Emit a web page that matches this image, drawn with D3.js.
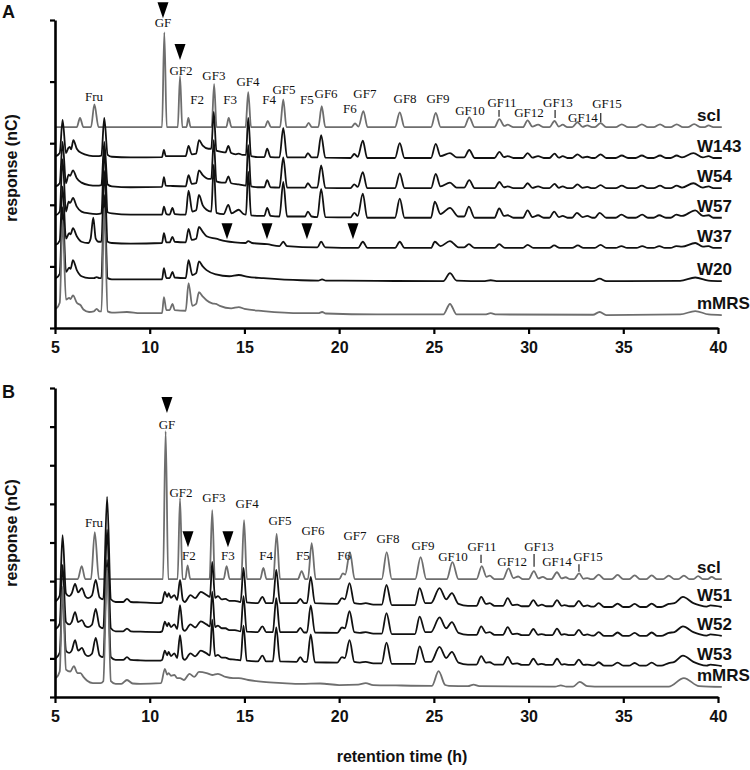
<!DOCTYPE html>
<html><head><meta charset="utf-8">
<script src="https://cdn.jsdelivr.net/npm/d3@7"></script>
<style>body{margin:0;background:#fff}</style>
</head><body><svg id="c" width="750" height="770"></svg>
<script>
// ---------------- DATA ----------------
const xTicks=[5,10,15,20,25,30,35,40];
const yTicksA=[0,10,20,30,40,50];
const yTicksB=[0,10,20,30,40,50,60,70,80];
const namesA=["scl","W143","W54","W57","W37","W20","mMRS"];
const offsetsA=[32.6,27.6,22.7,17.9,13.0,7.6,2.1];
const namesB=["scl","W51","W52","W53","mMRS"];
const offsetsB=[30.5,23.3,15.8,8.0,2.6];

const A_scl=[[5.0,0],[6.15,0],[6.32,1.5],[6.5,0],[6.9,0],[7.08,3.7],[7.3,0],[10.65,0],[10.77,15.4],[10.9,0],[11.48,0],[11.6,8.3],[11.72,0],[11.94,0],[12.04,1.5],[12.16,0],[13.27,0],[13.4,7.0],[13.53,0],[14.04,0],[14.17,1.5],[14.32,0],[15.06,0],[15.2,5.7],[15.35,0],[16.08,0],[16.23,1.0],[16.4,0],[16.88,0],[17.05,4.5],[17.22,0],[18.22,0],[18.39,0.7],[18.56,0],[18.9,0],[19.08,3.4],[19.27,0],[20.65,0],[20.84,0.6],[21.02,0.1],[21.28,2.6],[21.5,0],[22.95,0],[23.2,2.4],[23.45,0],[24.85,0],[25.1,2.3],[25.36,0],[26.6,0],[26.87,1.6],[27.15,0],[28.2,0],[28.46,1.3],[28.72,0.2],[28.9,0.4],[29.2,0],[29.7,0],[29.95,1.1],[30.2,0.1],[30.5,0.4],[30.8,0],[31.1,0],[31.37,1.0],[31.6,0.1],[31.8,0.4],[32.05,0],[32.3,0],[32.58,0.8],[32.85,0.05],[33.1,0.3],[33.35,0],[33.5,0],[33.8,0.65],[34.1,0],[34.6,0],[34.92,0.45],[35.25,0],[35.65,0],[35.98,0.45],[36.3,0],[36.6,0],[36.94,0.45],[37.25,0],[37.5,0],[37.82,0.45],[38.15,0],[38.4,0],[38.74,0.5],[39.1,0],[39.3,0],[39.5,0.3],[39.75,0],[40.2,0]];
const A_W143=[[5.05,0.3],[5.25,0.8],[5.4,6.2],[5.58,0.8],[5.7,1.6],[5.78,1.8],[5.85,1.4],[5.97,2.9],[6.15,1.5],[6.4,0.8],[6.8,0.4],[7.2,0.3],[7.45,0.4],[7.6,6.5],[7.78,0.5],[8.0,0.2],[9.0,0.1],[10.65,0.15],[10.75,1.3],[10.85,0.3],[11.9,0.3],[12.05,1.95],[12.22,0.6],[12.45,0.7],[12.6,2.9],[12.8,2.0],[13.1,1.5],[13.25,1.5],[13.38,7.5],[13.52,1.2],[13.8,1.0],[14.0,0.9],[14.15,1.95],[14.3,0.8],[14.55,0.6],[14.7,0.7],[14.9,0.5],[15.08,0.5],[15.2,6.5],[15.35,0.3],[15.7,0.15],[16.05,0.15],[16.2,1.5],[16.38,0.15],[16.85,0.1],[17.05,4.9],[17.25,0.1],[18.2,0.1],[18.35,0.8],[18.55,0.1],[18.85,0.1],[19.05,3.7],[19.27,0.05],[20.6,0],[20.8,0.65],[20.98,0.2],[21.25,2.8],[21.48,0],[22.95,0],[23.2,2.4],[23.45,0],[24.85,0],[25.1,2.3],[25.35,0.3],[25.85,0.8],[26.2,0.1],[26.6,0.1],[26.87,1.3],[27.15,0],[28.2,0],[28.46,1.0],[28.7,0.15],[28.9,0.3],[29.2,0],[29.7,0],[29.95,0.8],[30.2,0.05],[30.5,0.3],[30.8,0],[31.1,0],[31.37,0.7],[31.6,0.05],[31.8,0.3],[32.05,0],[32.3,0],[32.58,0.6],[32.85,0.05],[33.1,0.2],[33.35,0],[33.5,0],[33.8,0.6],[34.1,0],[34.6,0],[34.92,0.4],[35.25,0],[35.65,0],[35.98,0.4],[36.3,0],[36.6,0],[36.94,0.4],[37.25,0],[37.5,0],[37.82,0.4],[38.1,0.1],[38.7,0.8],[39.2,0.1],[39.5,0.3],[39.75,0],[40.2,0]];
const A_W54=[[5.05,0.3],[5.25,0.8],[5.4,7.5],[5.58,0.8],[5.72,2.2],[5.8,2.0],[5.95,2.9],[6.15,1.6],[6.4,0.9],[6.8,0.5],[7.2,0.4],[7.45,0.5],[7.6,7.5],[7.78,0.6],[8.0,0.3],[9.0,0.15],[10.65,0.2],[10.75,1.8],[10.85,0.4],[11.2,0.35],[11.9,0.3],[12.05,2.1],[12.22,0.7],[12.45,0.8],[12.6,2.9],[12.8,2.1],[13.1,1.5],[13.25,1.5],[13.38,7.8],[13.52,1.1],[13.8,0.9],[14.0,0.9],[14.15,1.9],[14.3,0.8],[14.7,0.6],[15.08,0.4],[15.2,7.0],[15.35,0.3],[15.7,0.15],[16.05,0.15],[16.2,1.3],[16.38,0.15],[16.85,0.1],[17.05,5.0],[17.25,0.1],[18.2,0.1],[18.35,0.8],[18.55,0.1],[18.85,0.1],[19.05,3.7],[19.27,0.05],[20.6,0],[20.8,0.6],[20.98,0.2],[21.25,2.6],[21.48,0],[22.95,0],[23.2,2.4],[23.45,0],[24.85,0],[25.1,2.3],[25.35,0.3],[25.85,0.9],[26.2,0.1],[26.6,0.1],[26.87,1.3],[27.15,0],[28.2,0],[28.46,1.0],[28.7,0.15],[28.9,0.3],[29.2,0],[29.7,0],[29.95,0.8],[30.2,0.05],[30.5,0.3],[30.8,0],[31.1,0],[31.37,0.7],[31.6,0.05],[31.8,0.3],[32.05,0],[32.3,0],[32.58,0.6],[32.85,0.05],[33.1,0.2],[33.35,0],[33.5,0],[33.8,0.5],[34.1,0],[34.6,0],[34.92,0.4],[35.25,0],[35.65,0],[35.98,0.4],[36.3,0],[36.6,0],[36.94,0.4],[37.25,0],[37.5,0],[37.82,0.4],[38.1,0.1],[38.7,0.8],[39.2,0.1],[39.5,0.3],[39.75,0],[40.2,0]];
const A_W57=[[5.05,0.4],[5.25,1.0],[5.4,9.5],[5.58,1.0],[5.72,2.6],[5.8,2.4],[5.95,3.2],[6.15,1.8],[6.4,1.0],[6.8,0.7],[7.2,0.6],[7.45,0.7],[7.6,11],[7.78,0.9],[8.0,0.7],[9.0,0.5],[10.65,0.5],[10.75,1.8],[10.88,0.6],[11.05,0.5],[11.2,1.6],[11.32,0.6],[11.9,0.5],[12.05,4.4],[12.25,1.0],[12.45,1.2],[12.6,3.7],[12.8,2.0],[13.0,1.3],[13.25,1.0],[13.38,8.6],[13.52,0.8],[13.9,0.6],[14.15,2.1],[14.32,0.7],[14.7,1.3],[14.95,0.6],[15.08,0.5],[15.2,7.5],[15.35,0.4],[15.8,0.3],[16.05,0.3],[16.2,1.6],[16.38,0.3],[16.85,0.2],[17.05,5.8],[17.25,0.2],[18.2,0.2],[18.35,1.0],[18.55,0.2],[18.85,0.1],[19.05,4.7],[19.27,0.1],[20.6,0.05],[20.8,0.8],[20.98,0.3],[21.25,3.9],[21.48,0],[22.95,0],[23.2,3.1],[23.45,0],[24.85,0],[25.05,2.6],[25.35,0.6],[25.85,1.6],[26.3,0.2],[26.6,0.2],[26.85,1.8],[27.15,0],[28.2,0],[28.45,1.5],[28.7,0.3],[28.9,0.4],[29.2,0],[29.7,0],[29.95,1.2],[30.2,0.1],[30.5,0.4],[30.8,0],[31.1,0],[31.35,1.0],[31.6,0.1],[31.8,0.3],[32.05,0],[32.3,0],[32.55,0.8],[32.85,0.1],[33.1,0.3],[33.35,0],[33.5,0],[33.75,0.8],[34.1,0],[34.6,0],[34.9,0.5],[35.25,0],[35.65,0],[36.0,0.5],[36.3,0],[36.6,0],[36.9,0.4],[37.25,0],[37.5,0],[37.8,0.5],[38.1,0.3],[38.8,1.2],[39.2,0.3],[39.5,0.4],[39.75,0],[40.2,0]];
const A_W37=[[5.05,0.5],[5.25,1.2],[5.4,10],[5.58,1.5],[5.75,2.4],[5.82,2.2],[5.95,3.2],[6.15,1.9],[6.4,1.0],[6.75,0.8],[6.88,1.5],[7.02,4.9],[7.15,1.5],[7.3,1.0],[7.45,1.0],[7.6,12.5],[7.78,1.0],[8.0,0.8],[9.0,0.7],[10.65,0.8],[10.75,2.4],[10.88,0.9],[11.05,0.9],[11.2,1.8],[11.32,1.0],[11.9,0.9],[12.05,3.1],[12.22,1.3],[12.45,1.5],[12.6,3.4],[12.8,2.6],[13.0,1.9],[13.5,1.5],[14.0,1.1],[14.5,0.9],[15.05,0.8],[15.2,1.1],[15.4,0.8],[16.2,0.6],[16.85,0.3],[17.05,1.0],[17.25,0.3],[18.85,0.1],[19.05,1.0],[19.27,0.1],[21.0,0],[21.25,1.0],[21.5,0],[22.95,0],[23.2,1.0],[23.45,0],[24.85,0],[25.05,1.0],[25.35,0.3],[25.85,1.1],[26.3,0.1],[26.6,0.1],[26.85,0.6],[27.15,0],[28.2,0],[28.45,0.6],[28.75,0],[29.7,0],[29.95,0.5],[30.25,0],[31.1,0],[31.35,0.4],[31.65,0],[32.3,0],[32.6,0.4],[32.9,0],[33.5,0],[33.8,0.5],[34.1,0],[34.6,0],[34.9,0.3],[35.2,0],[35.7,0],[36.0,0.3],[36.3,0],[36.6,0],[36.9,0.3],[37.2,0],[37.5,0],[37.8,0.3],[38.1,0.2],[38.8,0.8],[39.2,0.2],[39.5,0.3],[39.75,0],[40.2,0]];
const A_W20=[[5.05,0.5],[5.25,1.2],[5.4,12],[5.58,1.5],[5.75,2.2],[5.82,2.0],[5.95,3.4],[6.15,1.8],[6.4,0.8],[6.8,0.5],[7.05,0.5],[7.2,0.65],[7.35,0.5],[7.45,0.5],[7.6,14],[7.78,0.5],[8.0,0.3],[10.65,0.3],[10.75,2.1],[10.88,0.5],[11.05,0.5],[11.2,1.5],[11.32,0.6],[11.9,0.5],[12.05,3.4],[12.25,1.0],[12.45,1.3],[12.6,3.2],[12.8,2.4],[13.0,1.8],[13.5,1.1],[14.2,0.8],[14.7,1.0],[15.2,0.7],[16.0,0.5],[18.0,0.15],[18.9,0.1],[19.1,0.3],[19.3,0.1],[22,0.05],[25.5,0],[25.85,1.3],[26.2,0.1],[27.7,0],[28.0,0.15],[28.3,0],[33.4,0],[33.75,0.4],[34.1,0],[38.0,0.05],[38.8,0.6],[39.5,0.1],[40.2,0]];
const A_mMRS=[[5.05,1.0],[5.25,2.0],[5.4,15.4],[5.58,2.5],[5.75,2.8],[5.82,2.6],[5.95,3.2],[6.15,2.0],[6.35,1.6],[6.5,0.9],[6.8,0.5],[7.05,0.6],[7.2,1.0],[7.35,0.6],[7.45,0.6],[7.6,17.4],[7.78,0.6],[8.0,0.4],[8.8,0.5],[9.5,0.3],[10.65,0.3],[10.75,2.9],[10.88,0.8],[11.05,0.8],[11.2,1.8],[11.32,0.8],[11.9,0.7],[12.05,5.2],[12.25,1.5],[12.45,1.8],[12.6,3.7],[12.8,3.0],[13.0,2.4],[13.3,1.9],[13.5,1.8],[13.7,1.5],[14.3,1.1],[14.7,1.3],[15.0,1.0],[16.0,0.65],[18.0,0.3],[18.9,0.3],[19.1,0.5],[19.3,0.25],[22,0.1],[25.5,0.1],[25.85,1.8],[26.2,0.1],[27.7,0.1],[28.0,0.3],[28.3,0.1],[33.4,0.05],[33.75,0.5],[34.1,0],[38.0,0.1],[38.8,0.65],[39.5,0.1],[40.2,0]];

const B_scl=[[5.0,0],[6.2,0],[6.41,3.4],[6.6,0],[6.9,0],[7.1,12.2],[7.32,0],[10.7,0],[10.84,38.3],[10.98,0],[11.47,0],[11.6,21],[11.73,0],[11.88,0],[12.0,3.6],[12.14,0],[13.16,0],[13.3,17.9],[13.44,0],[13.9,0],[14.06,3.4],[14.22,0],[14.83,0],[14.98,15.3],[15.13,0],[15.83,0],[16.0,2.9],[16.17,0],[16.52,0],[16.7,11.7],[16.88,0],[17.82,0],[18.02,2.1],[18.22,0],[18.35,0],[18.55,9.3],[18.76,0],[20.0,0],[20.2,1.5],[20.32,1.2],[20.57,7.0],[20.82,0],[22.25,0],[22.51,7.0],[22.78,0],[24.02,0],[24.3,5.7],[24.6,0],[25.68,0],[25.98,4.4],[26.3,0],[27.25,0],[27.53,3.4],[27.78,0.6],[27.95,0.9],[28.2,0],[28.65,0],[28.94,2.8],[29.2,0.3],[29.45,0.7],[29.7,0],[30.0,0],[30.28,2.1],[30.52,0.2],[30.75,0.6],[31.0,0],[31.2,0],[31.5,1.8],[31.75,0.2],[31.95,0.5],[32.2,0],[32.4,0],[32.67,1.5],[32.9,0.1],[33.1,0.3],[33.3,0],[33.4,0],[33.7,1.2],[34.0,0],[34.4,0],[34.7,1.1],[35.0,0],[35.3,0],[35.6,1.0],[35.9,0],[36.2,0],[36.5,1.0],[36.8,0],[37.1,0],[37.4,0.9],[37.7,0],[37.9,0],[38.2,0.9],[38.5,0],[38.7,0],[38.95,0.8],[39.2,0],[39.45,0],[39.67,0.6],[39.9,0],[40.2,0]];
const B_W51=[[5.05,1.5],[5.25,3],[5.4,18.6],[5.58,3.5],[5.75,2.8],[5.88,3.5],[6.06,6.0],[6.22,3.8],[6.42,4.9],[6.6,2.8],[6.75,2.3],[6.95,3.0],[7.15,7.0],[7.35,2.5],[7.55,2.0],[7.75,28.5],[7.95,2.0],[8.2,1.3],[8.6,1.3],[8.8,2.1],[9.0,1.3],[9.5,1.2],[10.5,1.0],[10.65,1.2],[10.8,3.9],[10.92,2.6],[11.0,3.6],[11.12,2.4],[11.3,3.1],[11.45,1.8],[11.6,7.0],[11.75,1.8],[11.85,1.3],[12.15,3.1],[12.4,2.3],[12.7,3.9],[13.0,3.1],[13.18,2.6],[13.3,11.7],[13.45,2.4],[13.6,2.8],[13.8,2.0],[14.0,2.1],[14.2,1.6],[14.5,1.6],[14.8,1.3],[14.95,10.1],[15.12,1.2],[15.7,1.0],[15.95,2.6],[16.15,1.0],[16.5,1.0],[16.68,9.6],[16.88,1.0],[17.75,1.0],[17.95,2.1],[18.15,1.0],[18.3,1.0],[18.5,7.8],[18.72,1.0],[19.9,0.8],[20.15,2.3],[20.3,2.0],[20.55,6.2],[20.8,1.0],[21.1,0.8],[21.4,1.0],[21.8,0.6],[22.25,0.6],[22.5,5.7],[22.78,0.5],[24.0,0.5],[24.25,4.9],[24.55,1.0],[24.85,1.0],[25.3,4.9],[25.65,2.0],[25.95,3.6],[26.3,0.8],[26.8,0.3],[27.25,0.3],[27.5,2.6],[27.75,0.8],[27.95,1.0],[28.2,0.3],[28.65,0.3],[28.9,2.3],[29.15,0.5],[29.4,0.6],[29.65,0.2],[30.0,0.2],[30.25,1.8],[30.5,0.3],[30.7,0.6],[30.95,0.2],[31.25,0.2],[31.5,1.8],[31.75,0.3],[31.9,0.5],[32.15,0.2],[32.4,0.2],[32.65,1.6],[32.9,0.2],[33.1,0.4],[33.35,0.1],[33.45,0.1],[33.7,1.0],[34.0,0],[34.4,0],[34.7,0.9],[35.0,0],[35.3,0],[35.6,0.8],[35.9,0],[36.2,0],[36.5,0.9],[36.8,0],[37.0,0],[37.4,0.8],[37.7,1.0],[38.15,2.6],[38.7,1.0],[39.0,0.5],[39.4,0.1],[39.6,0.4],[40.2,0]];
const B_W52=[[5.05,1.8],[5.25,3.2],[5.4,18.4],[5.58,3.6],[5.75,3.0],[5.88,3.6],[6.06,6.2],[6.22,3.6],[6.42,4.1],[6.6,2.6],[6.75,2.3],[6.95,2.9],[7.15,7.0],[7.35,2.5],[7.55,2.0],[7.75,27.5],[7.95,2.0],[8.2,1.2],[8.6,1.2],[8.8,1.9],[9.0,1.2],[9.5,1.1],[10.5,1.0],[10.65,1.2],[10.8,3.7],[10.92,2.5],[11.0,3.4],[11.12,2.3],[11.3,3.0],[11.45,1.8],[11.6,8.0],[11.75,1.8],[11.85,1.3],[12.15,3.0],[12.4,2.2],[12.7,3.8],[13.0,3.0],[13.18,2.5],[13.3,11.5],[13.45,2.3],[13.6,2.7],[13.8,2.0],[14.0,2.0],[14.2,1.5],[14.5,1.5],[14.8,1.2],[14.95,10.3],[15.12,1.1],[15.7,1.0],[15.95,2.5],[16.15,1.0],[16.5,1.0],[16.68,9.8],[16.88,1.0],[17.75,1.0],[17.95,2.1],[18.15,0.9],[18.3,0.9],[18.5,7.9],[18.72,0.9],[19.9,0.8],[20.15,2.2],[20.3,2.0],[20.55,6.4],[20.8,1.0],[21.1,0.8],[21.4,1.0],[21.8,0.6],[22.25,0.6],[22.5,5.9],[22.78,0.5],[24.0,0.5],[24.25,5.0],[24.55,1.0],[24.85,1.0],[25.3,4.8],[25.65,2.0],[25.95,3.6],[26.3,0.8],[26.8,0.3],[27.25,0.3],[27.5,2.5],[27.75,0.8],[27.95,1.0],[28.2,0.3],[28.65,0.3],[28.9,2.3],[29.15,0.5],[29.4,0.6],[29.65,0.2],[30.0,0.2],[30.25,1.8],[30.5,0.3],[30.7,0.5],[30.95,0.2],[31.25,0.2],[31.5,1.9],[31.75,0.3],[31.9,0.5],[32.15,0.2],[32.4,0.2],[32.65,1.6],[32.9,0.2],[33.1,0.4],[33.35,0.1],[33.45,0.1],[33.7,1.0],[34.0,0],[34.4,0],[34.7,0.9],[35.0,0],[35.3,0],[35.6,0.8],[35.9,0],[36.2,0],[36.5,0.9],[36.8,0],[37.0,0],[37.4,0.8],[37.7,1.0],[38.15,2.5],[38.7,1.0],[39.0,0.5],[39.4,0.1],[39.6,0.4],[40.2,0]];
const B_W53=[[5.05,2.0],[5.25,3.5],[5.4,19.5],[5.58,4.0],[5.75,3.4],[5.88,4.0],[6.06,6.7],[6.22,4.0],[6.42,4.7],[6.6,3.0],[6.75,2.6],[6.95,3.2],[7.15,7.3],[7.35,2.8],[7.55,2.3],[7.75,27.5],[7.95,2.3],[8.2,1.6],[8.6,1.6],[8.8,2.3],[9.0,1.6],[9.5,1.5],[10.5,1.4],[10.65,1.6],[10.8,4.0],[10.92,2.8],[11.0,3.7],[11.12,2.6],[11.3,3.3],[11.45,2.1],[11.6,8.0],[11.75,2.1],[11.85,1.6],[12.15,3.3],[12.4,2.5],[12.7,4.0],[13.0,3.3],[13.18,2.8],[13.3,12.0],[13.45,2.6],[13.6,2.9],[13.8,2.2],[14.0,2.2],[14.2,1.8],[14.5,1.7],[14.8,1.5],[14.95,10.5],[15.12,1.4],[15.7,1.2],[15.95,2.7],[16.15,1.2],[16.5,1.2],[16.68,10.0],[16.88,1.2],[17.75,1.1],[17.95,2.3],[18.15,1.1],[18.3,1.1],[18.5,8.2],[18.72,1.0],[19.9,0.9],[20.15,2.3],[20.3,2.1],[20.55,6.7],[20.8,1.1],[21.1,0.9],[21.4,1.1],[21.8,0.7],[22.25,0.7],[22.5,6.1],[22.78,0.6],[24.0,0.6],[24.25,5.1],[24.55,1.1],[24.85,1.1],[25.3,5.0],[25.65,2.1],[25.95,3.7],[26.3,0.9],[26.8,0.4],[27.25,0.4],[27.5,2.6],[27.75,0.9],[27.95,1.0],[28.2,0.4],[28.65,0.4],[28.9,2.4],[29.15,0.6],[29.4,0.7],[29.65,0.3],[30.0,0.3],[30.25,1.9],[30.5,0.4],[30.7,0.6],[30.95,0.3],[31.25,0.3],[31.5,1.9],[31.75,0.4],[31.9,0.5],[32.15,0.3],[32.4,0.3],[32.65,1.7],[32.9,0.3],[33.1,0.4],[33.35,0.2],[33.45,0.2],[33.7,1.0],[34.0,0.1],[34.4,0.1],[34.7,0.9],[35.0,0.1],[35.3,0.1],[35.6,0.8],[35.9,0.1],[36.2,0.1],[36.5,0.9],[36.8,0.1],[37.0,0.1],[37.4,0.8],[37.7,1.1],[38.15,2.7],[38.7,1.1],[39.0,0.5],[39.4,0.1],[39.6,0.4],[40.2,0]];
const B_mMRS=[[5.05,2.3],[5.25,4],[5.4,26],[5.58,4.5],[5.8,4.0],[6.0,5.4],[6.18,3.6],[6.35,3.6],[6.5,2.6],[6.7,1.6],[7.0,1.0],[7.4,1.0],[7.55,1.5],[7.75,31],[7.95,1.5],[8.2,0.8],[8.5,0.8],[8.8,1.8],[9.1,0.9],[9.5,0.8],[10.6,1.0],[10.8,4.7],[10.92,3.2],[11.0,3.6],[11.12,2.9],[11.3,3.1],[11.45,2.3],[11.6,2.3],[11.8,1.8],[12.1,3.4],[12.35,2.6],[12.6,3.9],[13.0,3.6],[13.3,3.1],[13.6,3.4],[14.0,2.6],[14.4,2.3],[14.7,2.3],[15.2,1.8],[16.0,1.3],[17.0,1.0],[18.0,0.8],[19.0,0.9],[20.0,0.5],[21.0,0.6],[21.4,1.0],[21.8,0.5],[23,0.4],[24.9,0.3],[25.25,4.1],[25.6,0.5],[25.8,0.3],[26.8,0.2],[27.1,0.6],[27.4,0.2],[31.4,0.1],[31.7,0.4],[32.0,0.1],[32.35,0.1],[32.7,1.3],[33.1,0.2],[33.5,0.1],[37.4,0.1],[38.2,2.3],[39.0,0.2],[40.2,0]];

const tracesA=[A_scl,A_W143,A_W54,A_W57,A_W37,A_W20,A_mMRS];
const tracesB=[B_scl,B_W51,B_W52,B_W53,B_mMRS];

// annotations: [text, time, response]
const annA=[["GF",10.70,48.9],["GF2",11.65,41.1],["GF3",13.39,40.3],["GF4",15.19,39.3],["GF5",17.09,38.0],["GF6",19.31,37.3],["GF7",21.36,37.3],["GF8",23.48,36.5],["GF9",25.22,36.5],["GF10",26.91,34.6],["GF11",28.60,35.9],["GF12",30.02,34.3],["GF13",31.55,35.9],["GF14",32.87,33.4],["GF15",34.14,35.7],["Fru",7.06,36.9],["F2",12.50,36.4],["F3",14.24,36.4],["F4",16.30,36.4],["F5",18.30,36.4],["F6",20.57,34.9]];
const arrowsA=[[10.70,50.3],[11.60,43.5],[14.08,14.4],[16.19,14.4],[18.30,14.4],[20.73,14.4]];
const barsA=[[28.44,35.4,34.3],[31.40,35.4,34.1],[33.81,34.9,33.4]];
const annB=[["GF",10.91,69.4],["Fru",7.06,44.0],["GF2",11.65,51.8],["GF3",13.39,50.5],["GF4",15.14,48.9],["GF5",16.88,44.5],["GF6",18.62,41.9],["GF7",20.84,40.6],["F2",12.07,35.5],["F3",14.13,35.5],["F4",16.14,35.5],["F5",18.09,35.5],["F6",20.26,35.5],["GF8",22.58,39.9],["GF9",24.43,38.1],["GF10",26.01,35.2],["GF11",27.54,37.8],["GF12",29.13,33.9],["GF13",30.55,37.8],["GF14",31.50,33.9],["GF15",33.14,35.2]];
const arrowsB=[[10.91,73.5],[12.02,38.8],[14.13,38.8]];
const barsB=[[27.49,36.8,34.7],[30.29,37.0,33.7],[32.66,34.4,32.4]];

// ---------------- DRAW ----------------
const svg=d3.select("#c");
svg.append("rect").attr("width",750).attr("height",770).attr("fill","#fff");
const SANS="'Liberation Sans', Arial, sans-serif";
const SERIF="'Liberation Serif', 'Times New Roman', serif";
const GRAY="#6e6e6e";
const x=d3.scaleLinear().domain([5,40]).range([55,718]);

function panel(y, yTicks, names, offsets, traces, ann, arrows, bars, letter, letterY, titleY){
  const yBase=y.range()[0];
  names.forEach((n,i)=>{
    const off=offsets[i];
    const line=d3.line().x(d=>x(d[0])).y(d=>y(d[1]+off)).curve(d3.curveMonotoneX);
    const gray=(n==="scl"||n==="mMRS");
    svg.append("path").datum(traces[i]).attr("d",line).attr("fill","none")
      .attr("stroke",gray?GRAY:"#111").attr("stroke-width",1.8).attr("stroke-linejoin","round");
  });
  names.forEach((n,i)=>{
    svg.append("text").attr("x",697).attr("y",y(offsets[i])-6).text(n)
      .attr("font-family",SANS).attr("font-weight","bold").attr("font-size",17).attr("fill","#111");
  });
  const gx=svg.append("g").attr("transform",`translate(0,${yBase})`)
    .call(d3.axisBottom(x).tickValues(xTicks).tickSize(6).tickSizeOuter(0).tickPadding(8).tickFormat(d3.format("d")));
  const gy=svg.append("g").attr("transform","translate(55,0)")
    .call(d3.axisLeft(y).tickValues(yTicks).tickSize(5).tickSizeOuter(0).tickFormat(""));
  [gx,gy].forEach(g=>{
    g.select(".domain").attr("stroke","#000").attr("stroke-width",2.6);
    g.selectAll(".tick line").attr("stroke","#000").attr("stroke-width",2.2);
    g.selectAll(".tick text").attr("font-family",SANS).attr("font-weight","bold").attr("font-size",16).attr("fill","#111");
  });
  ann.forEach(a=>{
    svg.append("text").attr("x",x(a[1])).attr("y",y(a[2])).attr("text-anchor","middle").text(a[0])
      .attr("font-family",SERIF).attr("font-size",13).attr("fill","#111");
  });
  arrows.forEach(a=>{
    const cx=x(a[0]), cy=y(a[1]);
    svg.append("path").attr("d",`M${cx-5.5},${cy-16}L${cx+5.5},${cy-16}L${cx},${cy}Z`).attr("fill","#000");
  });
  bars.forEach(b=>{
    svg.append("line").attr("x1",x(b[0])).attr("x2",x(b[0])).attr("y1",y(b[1])).attr("y2",y(b[2]))
      .attr("stroke","#222").attr("stroke-width",1.2);
  });
  svg.append("text").attr("x",2).attr("y",letterY).text(letter)
    .attr("font-family",SANS).attr("font-weight","bold").attr("font-size",18).attr("fill","#111");
  svg.append("text").attr("transform",`translate(17,${titleY}) rotate(-90)`).attr("text-anchor","middle")
    .text("response (nC)").attr("font-family",SANS).attr("font-weight","bold").attr("font-size",16).attr("fill","#111");
}

const yA=d3.scaleLinear().domain([0,50]).range([328,20]);
const yB=d3.scaleLinear().domain([0,80]).range([697,388]);
panel(yA,yTicksA,namesA,offsetsA,tracesA,annA,arrowsA,barsA,"A",18,168);
panel(yB,yTicksB,namesB,offsetsB,tracesB,annB,arrowsB,barsB,"B",398,533);
svg.append("text").attr("x",402).attr("y",762).attr("text-anchor","middle").text("retention time (h)")
  .attr("font-family",SANS).attr("font-weight","bold").attr("font-size",16).attr("fill","#111");
</script></body></html>
